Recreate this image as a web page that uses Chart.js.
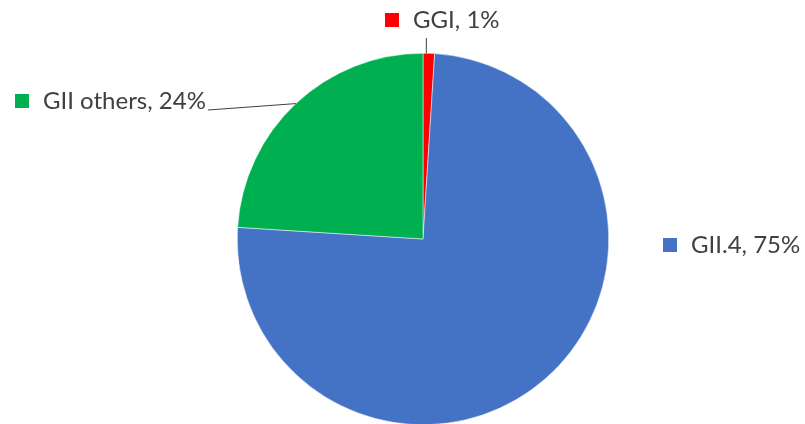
<!DOCTYPE html>
<html>
<head>
<meta charset="utf-8">
<script src="https://cdn.jsdelivr.net/npm/chart.js@4.4.1/dist/chart.umd.min.js"></script>
<style>
  html, body { margin: 0; padding: 0; background: #fff; overflow: hidden; }
  #wrap { width: 805px; height: 424px; overflow: hidden; }
</style>
</head>
<body>
<div id="wrap"><canvas id="c" width="805" height="440"></canvas></div>
<script>
// Genotype distribution
const categories = ['GGI', 'GII.4', 'GII others'];
const shares = [1, 75, 24];
const colors = ['#FF0000', '#4472C4', '#00B050'];

// Label placement for each slice (same order as categories)
const labelSpots = [
  { x: 385, y: 20, leader: 'up' },
  { x: 663, y: 245, leader: null },
  { x: 15, y: 101, leader: 'left' }
];

const FONT = '24px Lato, "Open Sans", sans-serif';

const sliceLabels = {
  id: 'sliceLabels',
  afterDatasetsDraw(chart) {
    const ctx = chart.ctx;
    const meta = chart.getDatasetMeta(0);
    ctx.save();
    ctx.font = FONT;
    ctx.textBaseline = 'middle';
    ctx.textAlign = 'left';
    categories.forEach((name, i) => {
      const spot = labelSpots[i];
      const arc = meta.data[i];
      const p = arc.getProps(['x', 'y', 'startAngle', 'endAngle', 'outerRadius'], true);
      const mid = (p.startAngle + p.endAngle) / 2;
      const ex = p.x + Math.cos(mid) * p.outerRadius;
      const ey = p.y + Math.sin(mid) * p.outerRadius;
      const text = name + ', ' + shares[i] + '%';
      const sq = 14;
      ctx.fillStyle = colors[i];
      ctx.fillRect(spot.x, spot.y - sq / 2, sq, sq);
      const tx = spot.x + sq + 14;
      ctx.fillStyle = '#404040';
      ctx.fillText(text, tx, spot.y);
      const w = ctx.measureText(text).width;
      ctx.strokeStyle = '#404040';
      ctx.lineWidth = 1;
      if (spot.leader === 'up') {
        ctx.beginPath();
        ctx.moveTo(ex - 2.5, spot.y + 18);
        ctx.lineTo(ex - 2.5, ey);
        ctx.stroke();
      } else if (spot.leader === 'left') {
        ctx.beginPath();
        ctx.moveTo(tx + w + 2, spot.y + 9);
        ctx.lineTo(ex, ey);
        ctx.stroke();
      }
    });
    ctx.restore();
  }
};

new Chart(document.getElementById('c'), {
  type: 'pie',
  data: {
    labels: categories,
    datasets: [{
      data: shares,
      backgroundColor: colors,
      borderWidth: 0.5,
      borderColor: '#ffffff'
    }]
  },
  options: {
    responsive: false,
    animation: false,
    devicePixelRatio: 1,
    layout: { padding: { top: 53, bottom: 15, left: 237, right: 196 } },
    plugins: {
      legend: { display: false },
      tooltip: { enabled: false }
    }
  },
  plugins: [sliceLabels]
});
</script>
</body>
</html>
